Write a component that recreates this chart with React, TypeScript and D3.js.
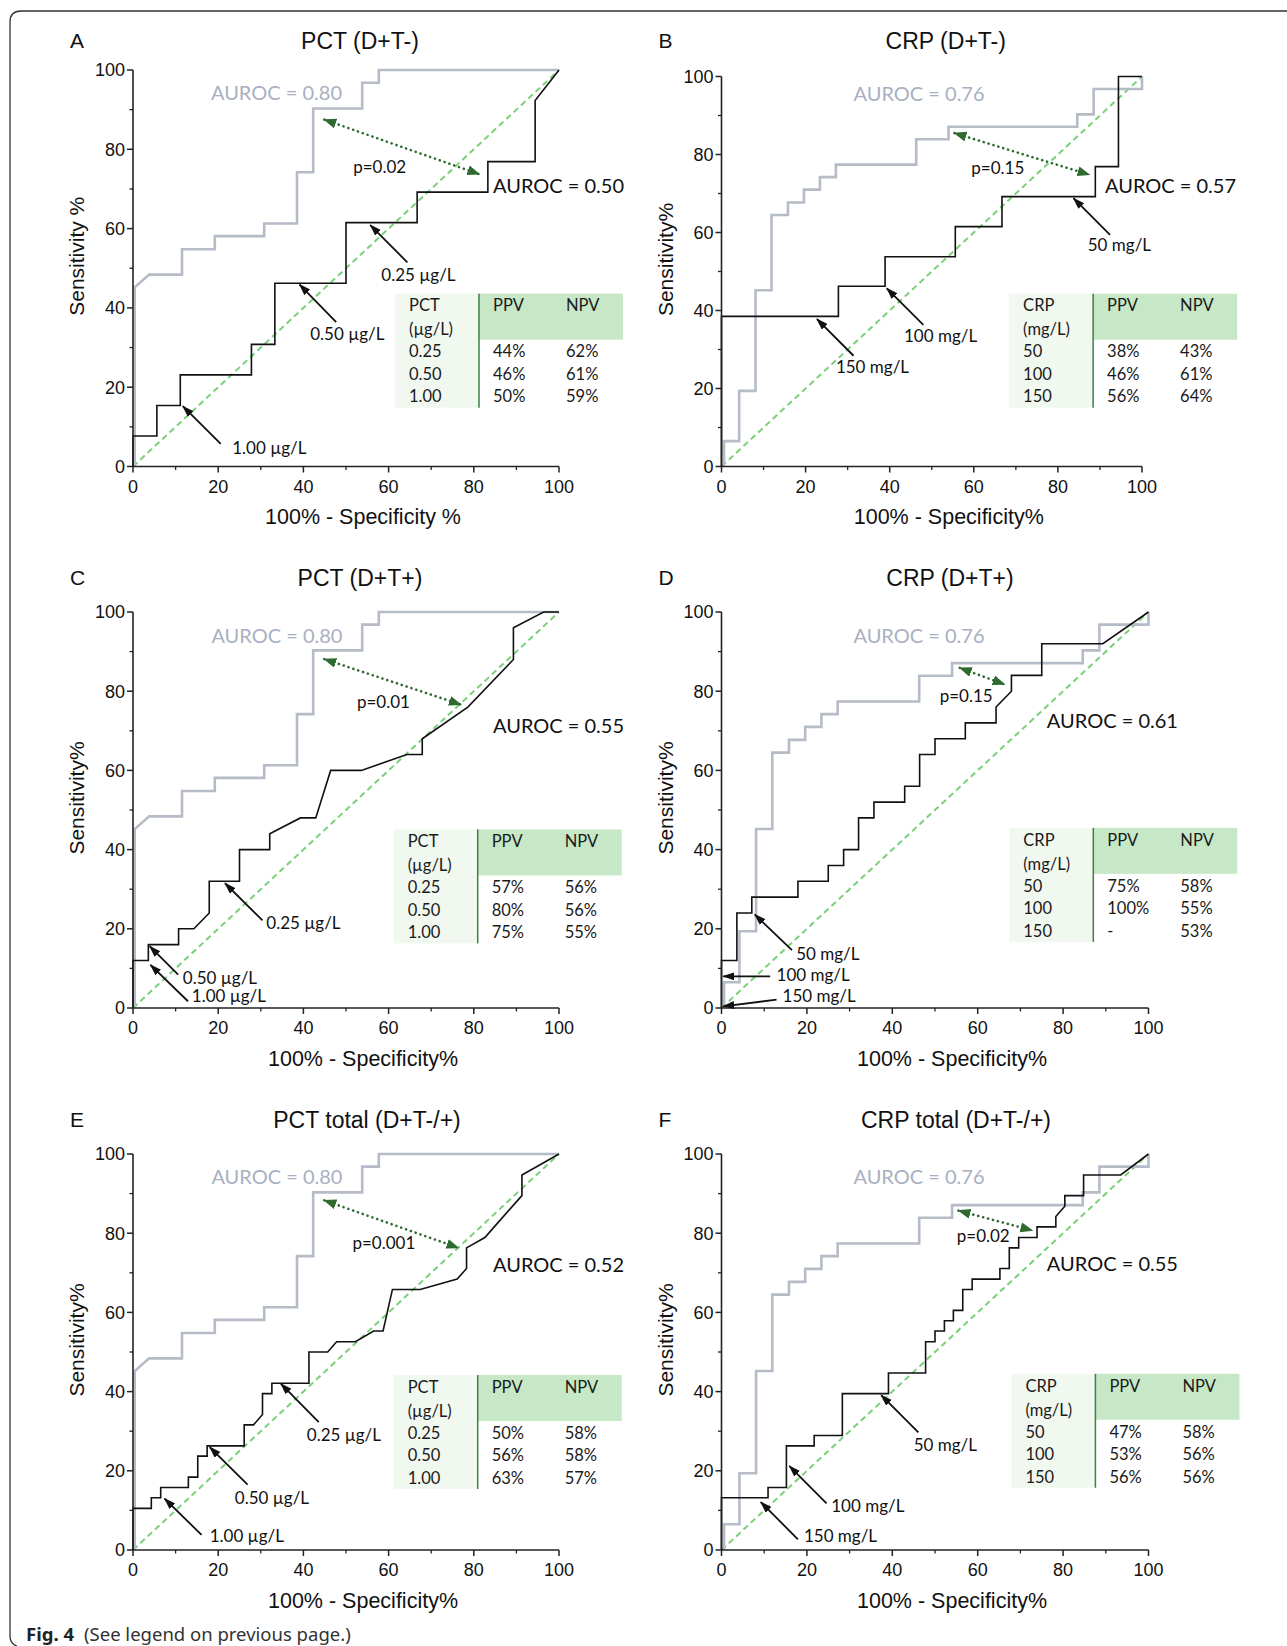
import React from 'react';
import * as d3 from 'd3';

type Pt = [number, number];

// grey reference ROC curves (the same in every row)
const pctRefRoc: Pt[] = [[0.4,0],[0.4,45.2],[3.8,48.4],[11.5,48.4],[11.5,54.8],[19.2,54.8],[19.2,58.1],[30.8,58.1],[30.8,61.3],[38.5,61.3],[38.5,74.2],[42.3,74.2],[42.3,90.3],[53.8,90.3],[53.8,96.8],[57.7,96.8],[57.7,100],[100,100]];
const crpRefRoc: Pt[] = [[0.6,0],[0.6,6.5],[4.2,6.5],[4.2,19.4],[8.1,19.4],[8.1,45.2],[11.9,45.2],[11.9,64.5],[15.8,64.5],[15.8,67.7],[19.6,67.7],[19.6,71.0],[23.4,71.0],[23.4,74.2],[27.2,74.2],[27.2,77.4],[46.3,77.4],[46.3,83.9],[54.0,83.9],[54.0,87.1],[84.6,87.1],[84.6,90.3],[88.5,90.3],[88.5,96.8],[100,96.8],[100,100]];

// black curves
const rocPctDTminus: Pt[] = [[0,0],[0,7.7],[5.6,7.7],[5.6,15.4],[11.1,15.4],[11.1,23.1],[27.8,23.1],[27.8,30.8],[33.3,30.8],[33.3,46.2],[50,46.2],[50,61.5],[66.7,61.5],[66.7,69.2],[83.3,69.2],[83.3,76.9],[94.4,76.9],[94.4,92.3],[100,100]];
const rocCrpDTminus: Pt[] = [[0,0],[0,38.5],[27.8,38.5],[27.8,46.2],[38.9,46.2],[38.9,53.8],[55.6,53.8],[55.6,61.5],[66.7,61.5],[66.7,69.2],[88.9,69.2],[88.9,76.9],[94.4,76.9],[94.4,100],[100,100]];
const rocPctDTplus: Pt[] = [[0,0],[0,12],[3.6,12],[3.6,16],[10.7,16],[10.7,20],[14.3,20],[17.9,24],[17.9,32],[25,32],[25,40],[32.1,40],[32.1,44],[39.3,48],[42.9,48],[46.4,60],[53.6,60],[64.3,64],[67.9,64],[67.9,68],[78.6,76],[89.3,88],[89.3,96],[96.4,100],[100,100]];
const rocCrpDTplus: Pt[] = [[0,0],[0,12],[3.6,12],[3.6,24],[7.1,24],[7.1,28],[17.9,28],[17.9,32],[25,32],[25,36],[28.6,36],[28.6,40],[32.1,40],[32.1,48],[35.7,48],[35.7,52],[42.9,52],[42.9,56],[46.4,56],[46.4,64],[50,64],[50,68],[57.1,68],[57.1,72],[64.3,72],[64.3,76],[67.9,80],[67.9,84],[75,84],[75,92],[89.3,92],[100,100]];
const rocPctTotal: Pt[] = [[0,0],[0,10.5],[4.3,10.5],[4.3,13.2],[6.5,13.2],[6.5,15.8],[13,15.8],[13,18.4],[15.2,18.4],[15.2,23.7],[17.4,23.7],[17.4,26.3],[26.1,26.3],[26.1,31.6],[28.3,31.6],[30.4,34.2],[30.4,39.5],[32.6,39.5],[32.6,42.1],[41.3,42.1],[41.3,50],[45.7,50],[47.8,52.6],[52.2,52.6],[56.5,55.3],[58.7,55.3],[60.9,65.8],[67.4,65.8],[76.1,68.4],[78.3,71.1],[78.3,76.3],[82.6,78.9],[84.8,81.6],[91.3,89.5],[91.3,94.7],[100,100]];
const rocCrpTotal: Pt[] = [[0,0],[0,13.2],[10.9,13.2],[10.9,15.8],[15.2,15.8],[15.2,26.3],[21.7,26.3],[21.7,28.9],[28.3,28.9],[28.3,39.5],[39.1,39.5],[39.1,44.7],[47.8,44.7],[47.8,52.6],[50,52.6],[50,55.3],[52.2,55.3],[52.2,57.9],[54.3,57.9],[54.3,60.5],[56.5,60.5],[56.5,65.8],[58.7,65.8],[58.7,68.4],[65.2,68.4],[65.2,71.1],[67.4,71.1],[67.4,76.3],[69.6,76.3],[69.6,78.9],[73.9,78.9],[73.9,81.6],[78.3,81.6],[78.3,84.2],[80.4,86.8],[80.4,89.5],[84.8,89.5],[84.8,94.7],[93.5,94.7],[100,100]];

const majorTicks = [0, 20, 40, 60, 80, 100];
const minorTicks = [10, 30, 50, 70, 90];

// tables
const pctHeader = ['PCT', '(µg/L)'];
const crpHeader = ['CRP', '(mg/L)'];
const pctCutoffs = ['0.25', '0.50', '1.00'];
const crpCutoffs = ['50', '100', '150'];
const ppvA = ['44%', '46%', '50%'];
const npvA = ['62%', '61%', '59%'];
const ppvB = ['38%', '46%', '56%'];
const npvB = ['43%', '61%', '64%'];
const ppvC = ['57%', '80%', '75%'];
const npvC = ['56%', '56%', '55%'];
const ppvD = ['75%', '100%', '-'];
const npvD = ['58%', '55%', '53%'];
const ppvE = ['50%', '56%', '63%'];
const npvE = ['58%', '58%', '57%'];
const ppvF = ['47%', '53%', '56%'];
const npvF = ['58%', '56%', '56%'];

const pctCutLabels = ['0.25 µg/L', '0.50 µg/L', '1.00 µg/L'];
const crpCutLabels = ['50 mg/L', '100 mg/L', '150 mg/L'];

const panels = [
  {
    letter: 'A', title: 'PCT (D+T-)', yTitle: 'Sensitivity %', xTitle: '100% - Specificity %',
    x0: 133, x1: 559, y0: 466.5, y1: 70, titleDx: 14, titleY: 40.7,
    ref: pctRefRoc, roc: rocPctDTminus, refAuc: 'AUROC = 0.80', rocAuc: 'AUROC = 0.50',
    refAt: [18.3, 94.1], rocAt: [84.5, 70.7], pText: 'p=0.02', pAt: [57.9, 75.5],
    pArrow: [[44.9, 87.5], [81.3, 73.7]],
    cuts: [
      { from: [64.4, 51.5], to: [55.7, 60.9], at: [58.3, 48.2] },
      { from: [47.7, 36.4], to: [39.1, 45.9], at: [41.6, 33.5] },
      { from: [20.6, 5.7], to: [11.7, 15.2], at: [23.3, 4.6] },
    ],
    cutLabels: pctCutLabels,
    table: { at: [61.5, 43.6], head: pctHeader, cut: pctCutoffs, ppv: ppvA, npv: npvA },
  },
  {
    letter: 'B', title: 'CRP (D+T-)', yTitle: 'Sensitivity%', xTitle: '100% - Specificity%',
    x0: 721.5, x1: 1142, y0: 466.5, y1: 76.5, titleDx: 14, titleY: 40.7,
    ref: crpRefRoc, roc: rocCrpDTminus, refAuc: 'AUROC = 0.76', rocAuc: 'AUROC = 0.57',
    refAt: [31.4, 95.6], rocAt: [91.2, 71.8], pText: 'p=0.15', pAt: [65.7, 76.5],
    pArrow: [[55.4, 85.5], [87.5, 74.8]],
    cuts: [
      { from: [92.4, 59.4], to: [83.7, 68.8], at: [87.1, 56.7] },
      { from: [48, 36.3], to: [39.3, 45.7], at: [43.4, 33.5] },
      { from: [31.4, 28.4], to: [22.7, 37.8], at: [27.2, 25.6] },
    ],
    cutLabels: crpCutLabels,
    table: { at: [68.4, 44.3], head: crpHeader, cut: crpCutoffs, ppv: ppvB, npv: npvB },
  },
  {
    letter: 'C', title: 'PCT (D+T+)', yTitle: 'Sensitivity%', xTitle: '100% - Specificity%',
    x0: 133, x1: 559, y0: 1008, y1: 612, titleDx: 14, titleY: 577.5,
    ref: pctRefRoc, roc: rocPctDTplus, refAuc: 'AUROC = 0.80', rocAuc: 'AUROC = 0.55',
    refAt: [18.4, 94.0], rocAt: [84.5, 71.1], pText: 'p=0.01', pAt: [58.8, 77.2],
    pArrow: [[44.9, 88.1], [77.0, 76.6]],
    cuts: [
      { from: [30.4, 22.1], to: [21.6, 31.5], at: [31.3, 21.4] },
      { from: [10.6, 8.4], to: [3.9, 15.6], at: [11.7, 7.5] },
      { from: [12.9, 1.7], to: [4.1, 10.9], at: [13.8, 2.9] },
    ],
    cutLabels: pctCutLabels,
    table: { at: [61.2, 45.1], head: pctHeader, cut: pctCutoffs, ppv: ppvC, npv: npvC },
  },
  {
    letter: 'D', title: 'CRP (D+T+)', yTitle: 'Sensitivity%', xTitle: '100% - Specificity%',
    x0: 721.5, x1: 1148.5, y0: 1008, y1: 612, titleDx: 15, titleY: 577.5,
    ref: crpRefRoc, roc: rocCrpDTplus, refAuc: 'AUROC = 0.76', rocAuc: 'AUROC = 0.61',
    refAt: [30.9, 93.9], rocAt: [76.2, 72.6], pText: 'p=0.15', pAt: [57.3, 78.9],
    pArrow: [[55.8, 85.9], [66.3, 81.7]],
    cuts: [
      { from: [16.5, 14.6], to: [7.8, 23.6], at: [17.5, 13.5] },
      { from: [11.4, 8.0], to: [0.4, 8.0], at: [12.9, 8.2] },
      { from: [12.9, 2.1], to: [0.4, 0.4], at: [14.3, 2.9] },
    ],
    cutLabels: crpCutLabels,
    table: { at: [67.4, 45.5], head: crpHeader, cut: crpCutoffs, ppv: ppvD, npv: npvD },
  },
  {
    letter: 'E', title: 'PCT total (D+T-/+)', yTitle: 'Sensitivity%', xTitle: '100% - Specificity%',
    x0: 133, x1: 559, y0: 1550, y1: 1154, titleDx: 21, titleY: 1119.5,
    ref: pctRefRoc, roc: rocPctTotal, refAuc: 'AUROC = 0.80', rocAuc: 'AUROC = 0.52',
    refAt: [18.4, 94.1], rocAt: [84.5, 71.9], pText: 'p=0.001', pAt: [58.9, 77.4],
    pArrow: [[44.9, 88.3], [76.4, 76.3]],
    cuts: [
      { from: [43.6, 32.3], to: [34.7, 42.0], at: [40.8, 29.0] },
      { from: [26.9, 16.5], to: [18, 26.0], at: [23.9, 13.2] },
      { from: [16.1, 3.8], to: [7.4, 13.0], at: [18.0, 3.6] },
    ],
    cutLabels: pctCutLabels,
    table: { at: [61.2, 44.2], head: pctHeader, cut: pctCutoffs, ppv: ppvE, npv: npvE },
  },
  {
    letter: 'F', title: 'CRP total (D+T-/+)', yTitle: 'Sensitivity%', xTitle: '100% - Specificity%',
    x0: 721.5, x1: 1148.5, y0: 1550, y1: 1154, titleDx: 21, titleY: 1119.5,
    ref: crpRefRoc, roc: rocCrpTotal, refAuc: 'AUROC = 0.76', rocAuc: 'AUROC = 0.55',
    refAt: [30.9, 94.1], rocAt: [76.2, 72.1], pText: 'p=0.02', pAt: [61.3, 79.2],
    pArrow: [[55.5, 85.7], [72.8, 80.7]],
    cuts: [
      { from: [46.1, 29.7], to: [37.4, 39.1], at: [45.0, 26.4] },
      { from: [24.6, 11.8], to: [15.9, 21.2], at: [25.7, 11.1] },
      { from: [17.9, 2.7], to: [9.2, 12.1], at: [19.3, 3.6] },
    ],
    cutLabels: crpCutLabels,
    table: { at: [67.9, 44.5], head: crpHeader, cut: crpCutoffs, ppv: ppvF, npv: npvF },
  },
];

const AXIS_FONT = '"Liberation Sans", Arial, sans-serif';
const NOTE_FONT = 'Lato, "Open Sans", sans-serif';
const GREY = '#b6bbc8';
const GREY_TEXT = '#a9b0c2';
const DARK_GREEN = '#2f6b2f';

function Panel({ p }: { p: any }) {
  const x = d3.scaleLinear().domain([0, 100]).range([p.x0, p.x1]);
  const y = d3.scaleLinear().domain([0, 100]).range([p.y0, p.y1]);
  const line = d3.line<number[]>().x(d => x(d[0])).y(d => y(d[1]));
  const cx = (p.x0 + p.x1) / 2;
  const cy = (p.y0 + p.y1) / 2;
  const t = p.table;
  const tx = x(t.at[0]);
  const ty = y(t.at[1]);

  return (
    <g>
      <text x={p.x0 - 63} y={p.titleY} dy="0.35em" fontSize={21} fontFamily={AXIS_FONT} fill="#111">
        {p.letter}
      </text>
      <text x={cx + p.titleDx} y={p.titleY} dy="0.35em" textAnchor="middle" fontSize={23}
        fontFamily={AXIS_FONT} fill="#111">{p.title}</text>

      {/* chance line */}
      <path d={line([[0, 0], [100, 100]]) || ''} fill="none" stroke="#79d079" strokeWidth={2}
        strokeDasharray="6,4" />
      {/* reference ROC */}
      <path d={line(p.ref) || ''} fill="none" stroke={GREY} strokeWidth={2.6} />
      {/* ROC */}
      <path d={line(p.roc) || ''} fill="none" stroke="#111" strokeWidth={1.6} />

      {/* axes */}
      <line x1={p.x0} x2={p.x0} y1={y(0)} y2={y(100)} stroke="#222" strokeWidth={1.6} />
      <line x1={x(0)} x2={x(100)} y1={p.y0} y2={p.y0} stroke="#222" strokeWidth={1.6} />
      {majorTicks.map(v => (
        <g key={'mt' + v}>
          <line x1={p.x0 - 6} x2={p.x0} y1={y(v)} y2={y(v)} stroke="#222" strokeWidth={1.5} />
          <line x1={x(v)} x2={x(v)} y1={p.y0} y2={p.y0 + 6} stroke="#222" strokeWidth={1.5} />
          <text x={p.x0 - 8} y={y(v)} dy="0.35em" textAnchor="end" fontSize={18} fontFamily={AXIS_FONT}
            fill="#111">{v}</text>
          <text x={x(v)} y={p.y0 + 20} dy="0.35em" textAnchor="middle" fontSize={18} fontFamily={AXIS_FONT}
            fill="#111">{v}</text>
        </g>
      ))}
      {minorTicks.map(v => (
        <g key={'nt' + v}>
          <line x1={p.x0 - 3.5} x2={p.x0} y1={y(v)} y2={y(v)} stroke="#222" strokeWidth={1.3} />
          <line x1={x(v)} x2={x(v)} y1={p.y0} y2={p.y0 + 3.5} stroke="#222" strokeWidth={1.3} />
        </g>
      ))}
      <text x={cx + 17} y={p.y0 + 50} dy="0.35em" textAnchor="middle" fontSize={21.5}
        fontFamily={AXIS_FONT} fill="#111">{p.xTitle}</text>
      <text transform={`translate(${p.x0 - 56},${cy - 12}) rotate(-90)`} dy="0.35em" textAnchor="middle"
        fontSize={21} fontFamily={AXIS_FONT} fill="#111">{p.yTitle}</text>

      {/* AUROC labels */}
      <text x={x(p.refAt[0])} y={y(p.refAt[1])} dy="0.35em" fontSize={20} fontFamily={NOTE_FONT}
        fill={GREY_TEXT}>{p.refAuc}</text>
      <text x={x(p.rocAt[0])} y={y(p.rocAt[1])} dy="0.35em" fontSize={20} fontFamily={NOTE_FONT}
        fill="#111">{p.rocAuc}</text>

      {/* comparison arrow */}
      <line x1={x(p.pArrow[0][0])} y1={y(p.pArrow[0][1])} x2={x(p.pArrow[1][0])} y2={y(p.pArrow[1][1])}
        stroke={DARK_GREEN} strokeWidth={2.6} strokeDasharray="0.1,5" strokeLinecap="round"
        markerStart="url(#greenHead)" markerEnd="url(#greenHead)" />
      <text x={x(p.pAt[0])} y={y(p.pAt[1])} dy="0.35em" textAnchor="middle" fontSize={17}
        fontFamily={NOTE_FONT} fill="#111">{p.pText}</text>

      {/* cut-off arrows */}
      {p.cuts.map((c: any, i: number) => (
        <g key={'c' + i}>
          <line x1={x(c.from[0])} y1={y(c.from[1])} x2={x(c.to[0])} y2={y(c.to[1])} stroke="#111"
            strokeWidth={1.8} markerEnd="url(#blackHead)" />
          <text x={x(c.at[0])} y={y(c.at[1])} dy="0.35em" fontSize={17} fontFamily={NOTE_FONT}
            fill="#111">{p.cutLabels[i]}</text>
        </g>
      ))}

      {/* PPV / NPV table */}
      <g transform={`translate(${tx},${ty})`} fontFamily={NOTE_FONT} fontSize={16.5} fill="#1a1a1a">
        <rect x={0} y={0} width={84} height={114} fill="#f1f8f0" />
        <rect x={84} y={0} width={144} height={46} fill="#c7e8c6" />
        <line x1={84} x2={84} y1={0} y2={114} stroke="#3f7f3f" strokeWidth={1.5} />
        <text x={14} y={12} dy="0.35em">{t.head[0]}</text>
        <text x={14} y={36} dy="0.35em">{t.head[1]}</text>
        <text x={98} y={12} dy="0.35em">PPV</text>
        <text x={171} y={12} dy="0.35em">NPV</text>
        {t.cut.map((v: string, i: number) => (
          <g key={'r' + i}>
            <text x={14} y={58 + i * 22.5} dy="0.35em">{v}</text>
            <text x={98} y={58 + i * 22.5} dy="0.35em">{t.ppv[i]}</text>
            <text x={171} y={58 + i * 22.5} dy="0.35em">{t.npv[i]}</text>
          </g>
        ))}
      </g>
    </g>
  );
}

export default function App() {
  return (
    <svg width={1287} height={1646} style={{ position: 'absolute', left: 0, top: 0, background: '#fff' }}>
      <defs>
        <marker id="blackHead" markerUnits="userSpaceOnUse" markerWidth={12} markerHeight={10} refX={11} refY={4}
          orient="auto">
          <path d="M0,0 L12,4 L0,8 Z" fill="#111" />
        </marker>
        <marker id="greenHead" markerUnits="userSpaceOnUse" markerWidth={14} markerHeight={12} refX={12} refY={5}
          orient="auto-start-reverse">
          <path d="M0,0 L13,5 L0,10 Z" fill={DARK_GREEN} />
        </marker>
      </defs>
      <rect width={1287} height={1646} fill="#fff" />
      <path d="M17,1646 Q10,1644 10,1636 L10,22 Q10,11 21,11 L1287,11" fill="none" stroke="#333" strokeWidth={1.3} />
      {panels.map(p => <Panel key={p.letter} p={p} />)}
      <text x={26} y={1641} fontSize={18.5} fontFamily='"Noto Sans", "Open Sans", sans-serif' fill="#222">
        <tspan fontWeight="bold">Fig. 4</tspan>
        <tspan dx={10} fill="#333">(See legend on previous page.)</tspan>
      </text>
    </svg>
  );
}
